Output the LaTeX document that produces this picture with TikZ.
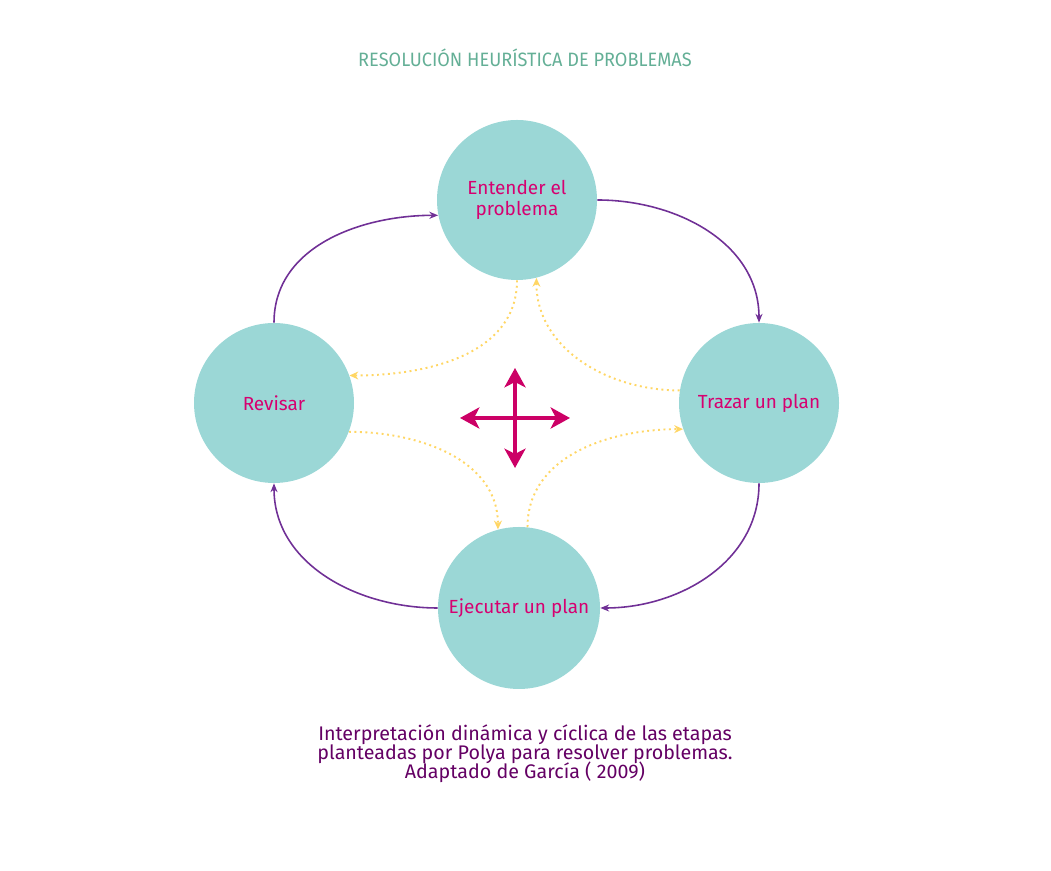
\documentclass[tikz,border=0pt]{standalone}
\usepackage{fontspec}
\setmainfont{Fira Sans}
\usepackage{graphicx}
\usepackage{tikz}
\usetikzlibrary{arrows.meta, positioning, calc}
\definecolor{circleteal}{RGB}{155,215,214}
\definecolor{stagemagenta}{RGB}{214,0,112}
\definecolor{crossmagenta}{RGB}{204,0,102}
\definecolor{cyclepurple}{RGB}{112,48,150}
\definecolor{backyellow}{RGB}{255,214,100}
\definecolor{titlegreen}{RGB}{100,175,150}
\definecolor{captionpurple}{RGB}{100,0,100}
\newcommand{\piefont}{\fontsize{11.2}{10.8}\selectfont\lineskiplimit=-8pt\relax}

\begin{document}
\begin{tikzpicture}[
    etapa/.style={circle, fill=circleteal, minimum size=3.2cm, inner sep=0pt,
        text=stagemagenta, align=center, font=\fontsize{10.8}{12.2}\selectfont},
    ciclo/.style={-{Stealth[length=5pt,width=4pt]}, cyclepurple, line width=0.9pt},
    retro/.style={-{Stealth[length=5pt,width=4.5pt]}, backyellow, line width=1.1pt, dotted},
    cruz/.style={-{Stealth[length=11pt,width=12pt,inset=3pt]}, crossmagenta, line width=2.6pt}
]
    \useasboundingbox (0,0) rectangle (21.02,17.42);

    % Title
    \node[text=titlegreen, font=\fontsize{11}{12}\selectfont] (titulo) at (10.5,16.26)
        {\scalebox{0.94}[1]{RESOLUCIÓN HEURÍSTICA DE PROBLEMAS}};

    % Stages
    \node[etapa] (entender) at (10.34,13.42) {Entender el\\problema};
    \node[etapa] (trazar) at (15.18,9.36) {Trazar un plan};
    \node[etapa, minimum size=3.24cm] (ejecutar) at (10.38,5.26) {Ejecutar un plan};
    \node[etapa] (revisar) at (5.48,9.36) {Revisar};

    % Main cycle
    \draw[ciclo] (entender.east) to[out=0, in=90] (trazar.north);
    \draw[ciclo] (trazar.south) to[out=-90, in=0] (ejecutar.east);
    \draw[ciclo] (ejecutar.west) to[out=180, in=-90] (revisar.south);
    \draw[ciclo] (revisar.north) to[out=90, in=180] (entender.191);

    % Back links
    \draw[retro] (entender.south) to[out=-90, in=0] (revisar.20);
    \draw[retro] (trazar.171) to[out=180, in=-90] (entender.-76);
    \draw[retro] (revisar.-21) to[out=0, in=90] (ejecutar.105);
    \draw[retro] (ejecutar.84) to[out=90, in=180] (trazar.-161);

    % Cross
    \coordinate (centro) at (10.3,9.06);
    \draw[cruz] (centro) -- ++(1.1,0);
    \draw[cruz] (centro) -- ++(-1.1,0);
    \draw[cruz] (centro) -- ++(0,1.0);
    \draw[cruz] (centro) -- ++(0,-1.0);

    % Caption
    \node[text=captionpurple, align=center, font=\piefont] (pie) at (10.5,2.34)
        {Interpretación dinámica y cíclica de las etapas\\
         planteadas por Polya para resolver problemas.\\
         Adaptado de García ( 2009)};
\end{tikzpicture}
\end{document}
